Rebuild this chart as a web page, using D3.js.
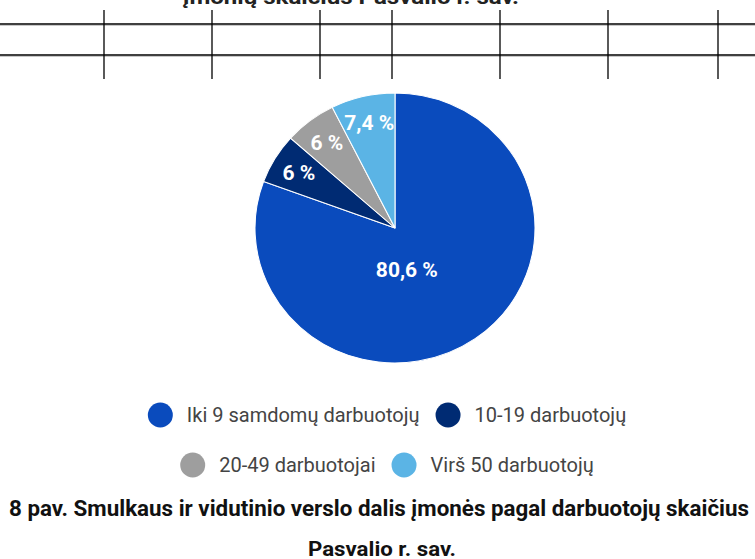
<!DOCTYPE html>
<html>
<head>
<meta charset="utf-8">
<script src="https://cdn.jsdelivr.net/npm/d3@7/dist/d3.min.js"></script>
<style>
  html, body { margin: 0; padding: 0; background: #fff; }
  svg { display: block; }
</style>
</head>
<body>
<svg id="chart" width="755" height="559"></svg>
<script>
// Data.
var categories = ['Iki 9 samdomų darbuotojų', '10-19 darbuotojų', '20-49 darbuotojai', 'Virš 50 darbuotojų'];
var shares = [80.6, 6, 6, 7.4];
var shareLabels = ['80,6 %', '6 %', '6 %', '7,4 %'];
var colors = ['#0a4bbd', '#002b73', '#9e9e9e', '#5bb4e5'];
var tableColumns = [104, 212, 320, 392, 500, 608, 718];

var width = 755, height = 559;
var svg = d3.select('#chart');

// Remains of a table above the chart.
var table = svg.append('g').attr('class', 'table');
table.selectAll('.hshadow')
    .data([24, 55])
  .enter().append('line')
    .attr('x1', 0).attr('x2', width)
    .attr('y1', function(d) { return d + 1.5; })
    .attr('y2', function(d) { return d + 1.5; })
    .style('stroke', '#c8c8c8')
    .style('stroke-width', 1);
table.selectAll('.hline')
    .data([24, 55])
  .enter().append('line')
    .attr('x1', 0).attr('x2', width)
    .attr('y1', function(d) { return d; })
    .attr('y2', function(d) { return d; })
    .style('stroke', '#000')
    .style('stroke-width', 1.3);
table.selectAll('.vline')
    .data(tableColumns)
  .enter().append('line')
    .attr('x1', function(d) { return d; })
    .attr('x2', function(d) { return d; })
    .attr('y1', 10).attr('y2', 79)
    .style('stroke', '#000')
    .style('stroke-width', 1.3);

// Cropped heading at the very top.
svg.append('text')
    .attr('x', 351).attr('y', 4)
    .attr('text-anchor', 'middle')
    .attr('textLength', 336)
    .attr('lengthAdjust', 'spacingAndGlyphs')
    .style('font-family', 'Roboto, sans-serif')
    .style('font-weight', 'bold')
    .style('font-size', '21px')
    .style('fill', '#222')
    .text('įmonių skaičius Pasvalio r. sav.');

// Pie.
var cx = 395, cy = 228, rx = 140, ry = 135;
var pie = d3.pie().sort(null).value(function(d) { return d; });
var arcs = pie(shares);
var arc = d3.arc().innerRadius(0).outerRadius(ry);
var labelArc = d3.arc().innerRadius(ry * 0.8).outerRadius(ry * 0.8);

var g = svg.append('g')
    .attr('transform', 'translate(' + cx + ',' + cy + ') scale(' + (rx / ry) + ',1)');
g.selectAll('path')
    .data(arcs)
  .enter().append('path')
    .attr('d', arc)
    .style('fill', function(d, i) { return colors[i]; })
    .style('stroke', '#fff')
    .style('stroke-width', 1);

// Labels: big slice closer to the centre.
var labels = svg.append('g')
    .attr('transform', 'translate(' + cx + ',' + cy + ')');
labels.selectAll('text')
    .data(arcs)
  .enter().append('text')
    .attr('transform', function(d) {
      var c;
      if (d.endAngle - d.startAngle > Math.PI) {
        var a = (d.startAngle + d.endAngle) / 2 + 0.33;
        c = [Math.sin(a) * 43, -Math.cos(a) * 43];
      } else {
        c = labelArc.centroid(d);
        c[0] *= rx / ry;
      }
      return 'translate(' + c[0] + ',' + c[1] + ')';
    })
    .attr('text-anchor', 'middle')
    .attr('dy', '0.36em')
    .style('font-family', 'Roboto, sans-serif')
    .style('font-weight', 'bold')
    .style('font-size', '21px')
    .style('fill', '#fff')
    .text(function(d, i) { return shareLabels[i]; });

// Legend, two centred rows.
var legendRows = [[0, 1], [2, 3]];
var legendY = [415, 465];
var legendCenter = 387;
var legend = svg.append('g').attr('class', 'legend');
legendRows.forEach(function(row, r) {
  var rowG = legend.append('g');
  var x = 0;
  row.forEach(function(idx) {
    var item = rowG.append('g').attr('transform', 'translate(' + x + ',0)');
    item.append('circle')
        .attr('cx', 12.5).attr('cy', 0).attr('r', 12.5)
        .style('fill', colors[idx]);
    var t = item.append('text')
        .attr('x', 39).attr('dy', '0.35em')
        .style('font-family', 'Roboto, sans-serif')
        .style('font-size', '20px')
        .style('fill', '#444')
        .text(categories[idx]);
    x += 39 + t.node().getComputedTextLength() + 16;
  });
  var total = x - 16;
  rowG.attr('transform', 'translate(' + (legendCenter - total / 2) + ',' + legendY[r] + ')');
});

// Caption below.
svg.append('text')
    .attr('x', 379).attr('y', 516)
    .attr('text-anchor', 'middle')
    .attr('textLength', 740)
    .attr('lengthAdjust', 'spacingAndGlyphs')
    .style('font-family', 'Roboto, sans-serif')
    .style('font-weight', 'bold')
    .style('font-size', '22px')
    .style('fill', '#111')
    .text('8 pav. Smulkaus ir vidutinio verslo dalis įmonės pagal darbuotojų skaičius');
svg.append('text')
    .attr('x', 382).attr('y', 556)
    .attr('text-anchor', 'middle')
    .attr('textLength', 148)
    .attr('lengthAdjust', 'spacingAndGlyphs')
    .style('font-family', 'Roboto, sans-serif')
    .style('font-weight', 'bold')
    .style('font-size', '21px')
    .style('fill', '#111')
    .text('Pasvalio r. sav.');
</script>
</body>
</html>
